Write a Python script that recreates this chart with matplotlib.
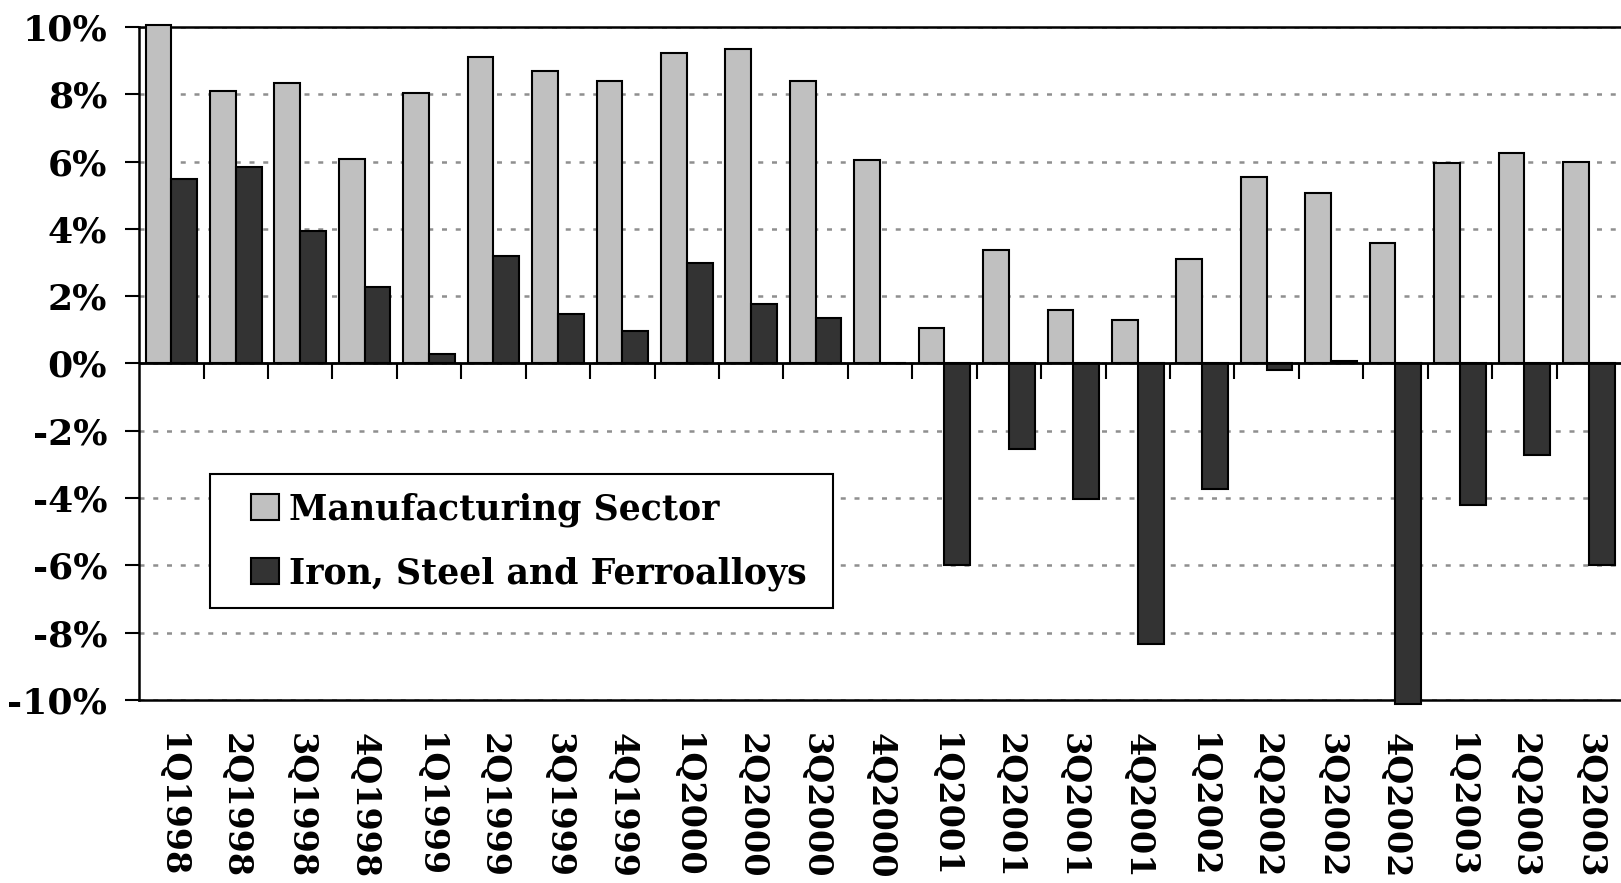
import numpy as np
import matplotlib
matplotlib.use("Agg")
from matplotlib import pyplot as plt
from matplotlib.patches import Rectangle

# Quarterly growth, percent
quarters = ["1Q1998", "2Q1998", "3Q1998", "4Q1998",
            "1Q1999", "2Q1999", "3Q1999", "4Q1999",
            "1Q2000", "2Q2000", "3Q2000", "4Q2000",
            "1Q2001", "2Q2001", "3Q2001", "4Q2001",
            "1Q2002", "2Q2002", "3Q2002", "4Q2002",
            "1Q2003", "2Q2003", "3Q2003"]
manufacturing = [10.07, 8.10, 8.33, 6.07,
                 8.04, 9.11, 8.68, 8.40,
                 9.23, 9.36, 8.40, 6.04,
                 1.04, 3.37, 1.60, 1.29,
                 3.11, 5.54, 5.06, 3.58,
                 5.95, 6.25, 6.00]
iron_steel = [5.49, 5.85, 3.95, 2.28,
              0.28, 3.19, 1.47, 0.98,
              3.00, 1.78, 1.35, 0.00,
              -5.98, -2.55, -4.02, -8.34,
              -3.74, -0.20, 0.08, -10.12,
              -4.21, -2.71, -5.99]
series_names = ["Manufacturing Sector", "Iron, Steel and Ferroalloys"]
yticks = np.arange(-10, 11, 2)

plt.rcParams["font.family"] = ["DejaVu Serif"]
plt.rcParams["font.weight"] = "bold"

fig = plt.figure(figsize=(16.21, 8.83), dpi=100)
ax = fig.add_axes([0.0858, 0.2073, 0.9142, 0.7621])

x = np.arange(len(quarters))
w = 0.4
b1 = ax.bar(x - w / 2, manufacturing, w, color="#c0c0c0", edgecolor="black", linewidth=1.5,
            label=series_names[0], zorder=3)
b2 = ax.bar(x + w / 2, iron_steel, w, color="#333333", edgecolor="black", linewidth=1.5,
            label=series_names[1], zorder=3)
for p in list(b1) + list(b2):
    p.set_clip_on(False)

ax.set_xlim(-0.5, len(quarters) - 0.5)
ax.set_ylim(-10, 10)

# gridlines and zero axis
ax.set_yticks(yticks)
ax.set_yticklabels(["%d%%" % v for v in yticks], fontsize=26, fontweight="bold")
ax.yaxis.grid(True, linestyle=(0, (2, 3.5)), linewidth=1.8, color="#8f8f8f", zorder=0)
ax.set_axisbelow(True)
ax.axhline(0, color="black", linewidth=2, zorder=5)
bounds = np.arange(1, len(quarters)) - 0.5
ax.vlines(bounds, -0.45, 0, color="black", linewidth=1.5, zorder=2)

ax.set_xticks(x)
ax.set_xticklabels(quarters, rotation=270, fontsize=24, fontweight="bold")
ax.tick_params(axis="x", length=0, pad=24)
ax.tick_params(axis="y", length=10, width=1.5, pad=13)

for side in ["left", "top", "bottom"]:
    ax.spines[side].set_linewidth(1.8)
    ax.spines[side].set_color("black")
ax.spines["right"].set_visible(False)

# legend box (Excel style, wide frame)
ax.add_patch(Rectangle((0.048, 0.137), 0.42, 0.199, transform=ax.transAxes,
                       facecolor="white", edgecolor="black", linewidth=1.5, zorder=6))
leg = ax.legend(loc="center left", bbox_to_anchor=(0.0756, 0.2355), frameon=False,
                prop={"weight": "bold", "size": 25},
                handlelength=0.8, handleheight=0.8, handletextpad=0.3,
                borderpad=0, labelspacing=0.85, borderaxespad=0)
leg.set_zorder(7)
for h in leg.legend_handles:
    h.set_edgecolor("black")
    h.set_linewidth(1.5)

plt.savefig("out.png", dpi=100)
